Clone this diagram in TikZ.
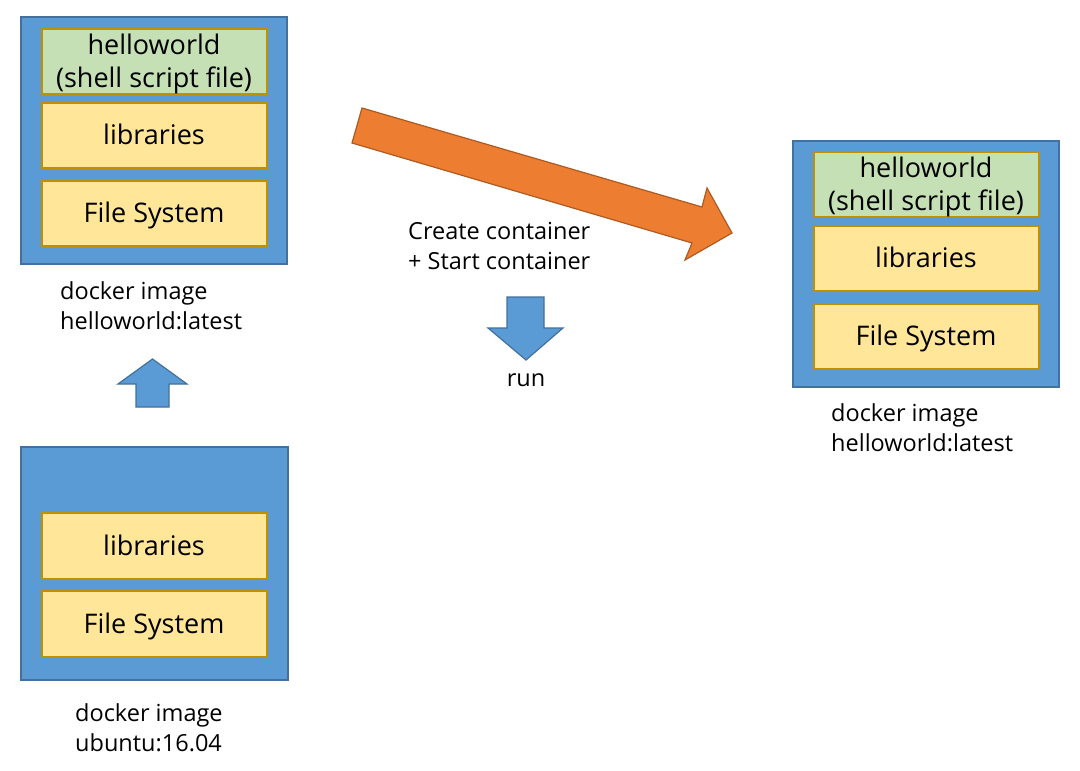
\documentclass[tikz,border=0pt]{standalone}
\usepackage{fontspec}
\setmainfont{Open Sans}
\begin{document}
\begin{tikzpicture}[x=1pt,y=-1pt,
  outerbox/.style={draw=blueborder,fill=bluefill,line width=1.5pt,anchor=north west,inner sep=0pt},
  layerbox/.style={draw=goldborder,fill=yellowfill,line width=2pt,anchor=north west,inner sep=0pt,
    minimum width=225pt,font=\fontsize{27}{33}\selectfont,align=center,text depth=2pt},
  appbox/.style={layerbox,fill=greenfill},
  lbl/.style={anchor=west,align=left,inner sep=0pt,font=\fontsize{23.5}{30}\selectfont},
  blockarrow/.style={draw=blueborder,fill=bluefill,line width=1.2pt,line join=miter}]
\definecolor{bluefill}{HTML}{5B9BD5}
\definecolor{blueborder}{HTML}{41719C}
\definecolor{yellowfill}{HTML}{FFE699}
\definecolor{goldborder}{HTML}{BF9000}
\definecolor{greenfill}{HTML}{C5E0B4}
\definecolor{orangefill}{HTML}{ED7D31}
\definecolor{orangeborder}{HTML}{AE5A21}
\useasboundingbox (0,0) rectangle (1080,771);
\fill[white] (0,0) rectangle (1080,771);

% top-left image
\node[outerbox,minimum width=266pt,minimum height=247pt] (img1) at (20,16) {};
\node[appbox,minimum height=65pt] (hw1) at (40.5,28) {helloworld\\(shell script file)};
\node[layerbox,minimum height=65pt] (lib1) at (40.5,102) {libraries};
\node[layerbox,minimum height=65pt] (fs1) at (40.5,180) {File System};
\node[lbl] (lab1) at (60,306) {docker image\\helloworld:latest};

% bottom-left image
\node[outerbox,minimum width=267pt,minimum height=233pt] (img0) at (20,446) {};
\node[layerbox,minimum height=66pt] (lib0) at (40.5,512) {libraries};
\node[layerbox,minimum height=66pt] (fs0) at (40.5,590) {File System};
\node[lbl] (lab0) at (75,728) {docker image\\ubuntu:16.04};

% right image
\node[outerbox,minimum width=266pt,minimum height=246pt] (img2) at (792,140) {};
\node[appbox,minimum height=65pt] (hw2) at (812.5,151) {helloworld\\(shell script file)};
\node[layerbox,minimum height=65pt] (lib2) at (812.5,225) {libraries};
\node[layerbox,minimum height=65pt] (fs2) at (812.5,303) {File System};
\node[lbl] (lab2) at (831,428) {docker image\\helloworld:latest};

% up arrow
\draw[blockarrow] (136,407) -- (136,384) -- (118,384) -- (152.5,359) -- (187,384) -- (169,384) -- (169,407) -- cycle;

% run arrow
\draw[blockarrow] (507,297) -- (544,297) -- (544,328) -- (563,328) -- (526,360) -- (488,328) -- (507,328) -- cycle;
\node[lbl,anchor=center] (run) at (526,380) {run};

% orange arrow
\draw[draw=orangeborder,fill=orangefill,line width=1.2pt,line join=miter]
  (362,108) -- (702,207) -- (707,188) -- (732,233) -- (685,260) -- (692,243) -- (352,143) -- cycle;
\node[lbl] (cmd) at (408,246) {Create container\\+ Start container};
\end{tikzpicture}
\end{document}
